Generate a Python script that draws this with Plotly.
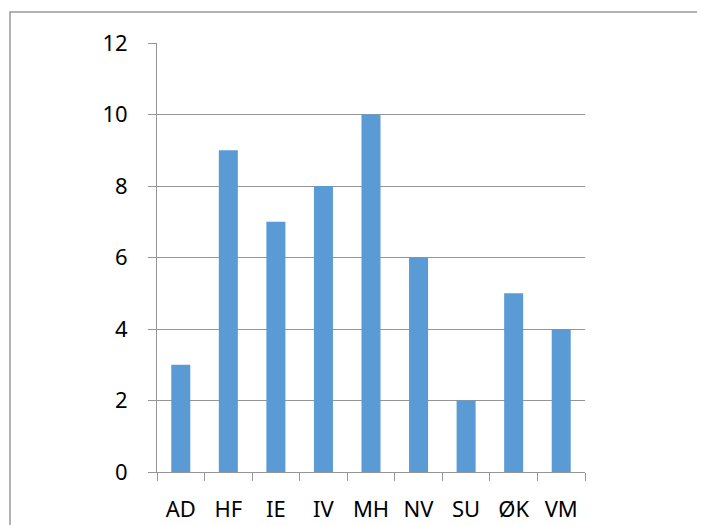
import plotly.graph_objects as go

categories = ["AD", "HF", "IE", "IV", "MH", "NV", "SU", "ØK", "VM"]
values = [3, 9, 7, 8, 10, 6, 2, 5, 4]
y_ticks = [0, 2, 4, 6, 8, 10, 12]

# page body has an 8px default margin; compensate so pixels land where the reference has them
OFF = 8
W, H = 705 - OFF, 525 - OFF
L, R, T, B = 157 - OFF, 585 - OFF, 43 - OFF, 472 - OFF
pw, ph = R - L, B - T

fig = go.Figure(go.Bar(x=categories, y=values, marker=dict(color="#5B9BD5", line=dict(width=0))))

grid = "#959595"
fig.update_layout(
    width=W, height=H,
    margin=dict(l=L, r=W - R, t=T, b=H - B, pad=0, autoexpand=False),
    paper_bgcolor="white", plot_bgcolor="white",
    bargap=0.6,
    showlegend=False,
    font=dict(family="Noto Sans", size=22, color="black"),
    xaxis=dict(
        type="category", showgrid=False, showline=True, linecolor=grid, linewidth=1,
        ticks="outside", tickson="boundaries", ticklen=8, tickcolor=grid, tickwidth=1,
        ticklabelstandoff=18, zeroline=False, automargin=False,
    ),
    yaxis=dict(
        range=[0, 12], tickvals=y_ticks, showgrid=True, gridcolor=grid, gridwidth=1,
        showline=True, linecolor=grid, linewidth=1,
        ticks="outside", ticklen=8, tickcolor=grid, tickwidth=1,
        ticklabelstandoff=16, zeroline=False, automargin=False,
    ),
    shapes=[
        dict(type="rect", xref="paper", yref="paper",
             x0=(10 - OFF - L) / pw, x1=(W + 20 - L) / pw,
             y0=(B - (H + 20)) / ph, y1=(B - (12 - OFF)) / ph,
             line=dict(color="#9a9a9a", width=1.5), fillcolor="rgba(0,0,0,0)", layer="below"),
    ],
)

fig.write_html("out.html")
